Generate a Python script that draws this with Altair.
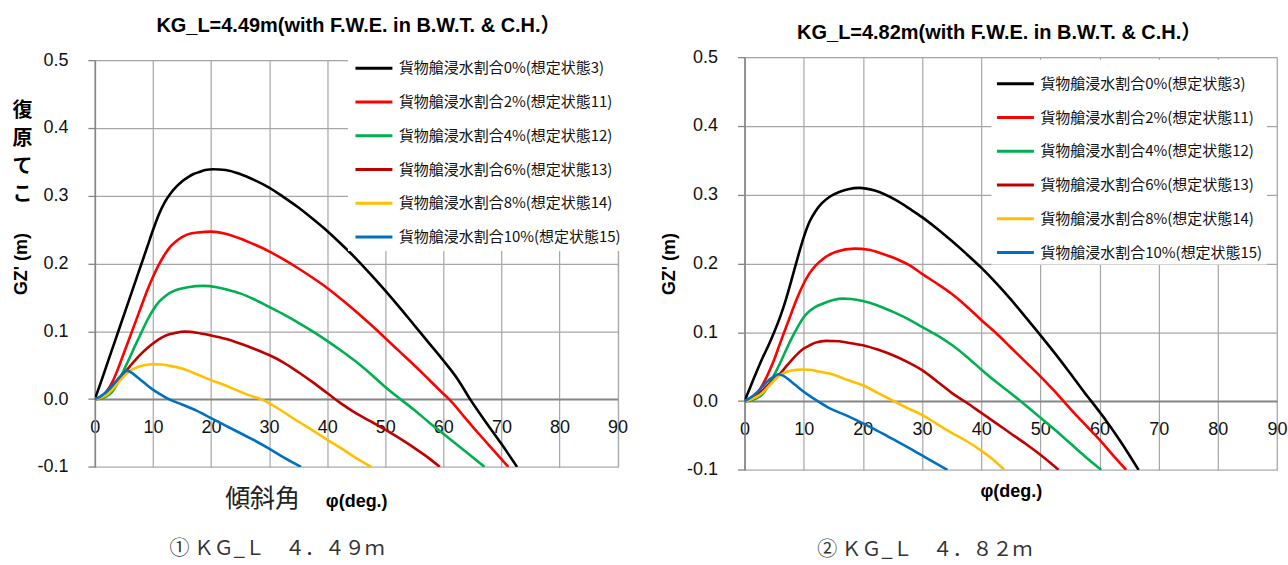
import altair as alt
import pandas as pd

LAT = "Liberation Sans, Noto Sans CJK JP"
JP = "Noto Sans CJK JP"

series = [
    "貨物艙浸水割合0%(想定状態3)",
    "貨物艙浸水割合2%(想定状態11)",
    "貨物艙浸水割合4%(想定状態12)",
    "貨物艙浸水割合6%(想定状態13)",
    "貨物艙浸水割合8%(想定状態14)",
    "貨物艙浸水割合10%(想定状態15)",
]
colors = ["#000000", "#FF0000", "#00B050", "#C00000", "#FFC000", "#0070C0"]

title_left = "KG_L=4.49m(with F.W.E. in B.W.T. & C.H.）"
title_right = "KG_L=4.82m(with F.W.E. in B.W.T. & C.H.）"
caption_left = "① ＫＧ_Ｌ　４．４９ｍ"
caption_right = "② ＫＧ_Ｌ　４．８２ｍ"
x_title = "φ(deg.)"
x_title_jp = "傾斜角"
y_title = "GZ' (m)"
y_title_jp = ["復", "原", "て", "こ"]
x_ticks = [0, 10, 20, 30, 40, 50, 60, 70, 80, 90]
y_ticks = [-0.1, 0.0, 0.1, 0.2, 0.3, 0.4, 0.5]

# ---- left chart: KG_L = 4.49 m ----
L0_phi = [0, 1, 2, 3, 4, 5, 6, 7, 8, 9, 10, 11, 12, 13, 14, 15, 16, 17, 18, 19, 20.4, 22.5, 25, 27.5, 30, 32.5, 35, 37.5, 40, 42.5, 45, 47.5, 50, 52.5, 55, 57.5, 60, 62.5, 64.6, 67, 70, 72.7]
L0_gz = [0, 0.024, 0.049, 0.074, 0.099, 0.124, 0.149, 0.174, 0.199, 0.224, 0.249, 0.272, 0.29, 0.303, 0.313, 0.321, 0.327, 0.332, 0.335, 0.338, 0.339, 0.338, 0.332, 0.323, 0.312, 0.298, 0.283, 0.266, 0.248, 0.228, 0.207, 0.184, 0.16, 0.135, 0.109, 0.083, 0.057, 0.029, 0.0, -0.03, -0.066, -0.1]
L2_phi = [0, 1, 2, 3, 4, 5, 6, 7, 8, 9, 10, 11, 12, 13, 14, 15, 16, 18, 20, 22.5, 25, 27.5, 30, 32.5, 35, 37.5, 40, 42.5, 45, 47.5, 50, 52.5, 55, 57.5, 60, 61, 63.5, 66, 68.5, 71.2]
L2_gz = [0, 0.003, 0.011, 0.025, 0.045, 0.068, 0.091, 0.114, 0.137, 0.16, 0.18, 0.198, 0.213, 0.225, 0.233, 0.239, 0.243, 0.246, 0.247, 0.244, 0.237, 0.228, 0.218, 0.206, 0.193, 0.179, 0.164, 0.147, 0.129, 0.11, 0.09, 0.07, 0.05, 0.029, 0.008, 0.0, -0.025, -0.05, -0.074, -0.1]
L4_phi = [0, 1, 2, 3, 4, 5, 6, 7, 8, 9, 10, 11, 12, 13, 14, 16, 18.7, 21, 23, 25, 27.5, 30, 32.5, 35, 37.5, 40, 42.5, 45, 47.5, 50, 52.6, 55, 57.5, 60, 63.5, 67.1]
L4_gz = [0, 0.001, 0.004, 0.011, 0.025, 0.043, 0.061, 0.08, 0.098, 0.116, 0.131, 0.143, 0.151, 0.157, 0.161, 0.165, 0.167, 0.165, 0.161, 0.156, 0.147, 0.136, 0.125, 0.113, 0.1, 0.086, 0.071, 0.055, 0.037, 0.018, 0.0, -0.016, -0.034, -0.051, -0.075, -0.1]
L6_phi = [0, 1, 2, 3, 4, 5, 6, 7, 8, 9, 10, 11, 12, 13, 14, 15.5, 17.5, 20, 22.5, 25, 27.5, 30, 32.5, 35, 37.5, 40, 42.5, 45, 47.5, 50, 52.5, 55, 57.5, 59.4]
L6_gz = [0, 0.002, 0.007, 0.016, 0.027, 0.038, 0.048, 0.058, 0.067, 0.075, 0.082, 0.088, 0.093, 0.096, 0.098, 0.0995, 0.098, 0.094, 0.089, 0.082, 0.074, 0.065, 0.054, 0.04, 0.025, 0.009, -0.007, -0.021, -0.033, -0.045, -0.058, -0.072, -0.087, -0.1]
L8_phi = [0, 1, 2, 3, 4, 5, 5.8, 7, 8.5, 10, 11.5, 13, 15, 17.5, 20, 22.5, 25, 27.5, 28.6, 30, 32.5, 35, 37.5, 40, 42.5, 45, 47.6]
L8_gz = [0, 0.002, 0.006, 0.014, 0.024, 0.034, 0.04, 0.046, 0.05, 0.0515, 0.051, 0.049, 0.045, 0.037, 0.028, 0.02, 0.011, 0.003, 0.0, -0.006, -0.019, -0.033, -0.046, -0.06, -0.073, -0.087, -0.1]
L10_phi = [0, 1, 2, 3, 4, 5, 5.5, 6.5, 7.5, 8.5, 10, 11.5, 12.5, 15, 17.5, 20, 22.5, 25, 27.5, 30, 32.5, 35.5]
L10_gz = [0, 0.004, 0.011, 0.02, 0.03, 0.039, 0.042, 0.038, 0.031, 0.024, 0.014, 0.006, 0.001, -0.008, -0.017, -0.028, -0.039, -0.05, -0.061, -0.073, -0.086, -0.1]

# ---- right chart: KG_L = 4.82 m ----
R0_phi = [0, 1, 2, 3, 4, 5, 6, 7, 8, 9, 10, 11, 12, 13, 14.4, 16, 17.5, 19.4, 22, 25.6, 28, 30, 32.5, 35, 37.5, 40, 42.5, 45, 47.5, 50, 52.5, 55, 57.5, 58.6, 61, 63.5, 66.6]
R0_gz = [0, 0.021, 0.042, 0.062, 0.08, 0.1, 0.122, 0.148, 0.178, 0.209, 0.238, 0.261, 0.276, 0.287, 0.297, 0.304, 0.308, 0.31, 0.306, 0.292, 0.279, 0.2675, 0.251, 0.233, 0.214, 0.194, 0.172, 0.148, 0.122, 0.096, 0.069, 0.041, 0.012, 0.0, -0.027, -0.058, -0.1]
R2_phi = [0, 1, 2, 3, 4, 5, 6, 7, 8, 9, 10, 11, 12, 13.3, 15.5, 18.6, 21, 23, 25.6, 28, 30, 32.5, 35, 37.5, 40, 42.5, 45, 47.5, 50, 52, 53.9, 56, 58, 60, 62, 64.5]
R2_gz = [0, 0.002, 0.009, 0.023, 0.04, 0.06, 0.084, 0.107, 0.13, 0.152, 0.171, 0.186, 0.197, 0.207, 0.217, 0.2216, 0.22, 0.215, 0.207, 0.197, 0.185, 0.171, 0.156, 0.138, 0.118, 0.099, 0.078, 0.057, 0.036, 0.018, 0.0, -0.02, -0.038, -0.056, -0.076, -0.1]
R4_phi = [0, 1, 2, 3, 4, 5, 6, 7, 8, 9, 10, 11, 12, 13.3, 15, 16.6, 18, 20, 22.5, 25, 27.5, 30, 32.5, 35, 37.5, 40, 42.5, 45, 47.5, 50, 52.5, 55, 57.5, 60.3]
R4_gz = [0, 0.001, 0.004, 0.01, 0.022, 0.038, 0.055, 0.074, 0.092, 0.108, 0.122, 0.131, 0.137, 0.142, 0.147, 0.149, 0.1485, 0.1456, 0.139, 0.13, 0.12, 0.108, 0.096, 0.082, 0.065, 0.046, 0.028, 0.0115, -0.006, -0.024, -0.042, -0.061, -0.08, -0.1]
R6_phi = [0, 1, 2, 3, 4, 5, 6, 7, 8, 9, 10, 11, 12, 13.8, 16, 18, 20, 22.5, 25, 27.5, 30, 32.5, 35, 37.5, 40, 42.5, 45, 47.5, 50, 53.1]
R6_gz = [0, 0.002, 0.007, 0.015, 0.024, 0.032, 0.04, 0.05, 0.06, 0.069, 0.0764, 0.081, 0.085, 0.0876, 0.087, 0.084, 0.0813, 0.075, 0.067, 0.057, 0.045, 0.029, 0.012, -0.002, -0.017, -0.032, -0.047, -0.062, -0.078, -0.1]
R8_phi = [0, 1, 2, 3, 4, 5, 6, 7, 8, 9.6, 11, 12.5, 14.4, 17, 20, 22.5, 25, 27.5, 30, 32.5, 35, 37.5, 40, 42, 43.9]
R8_gz = [0, 0.002, 0.006, 0.012, 0.021, 0.03, 0.0377, 0.042, 0.0445, 0.046, 0.0455, 0.043, 0.04, 0.032, 0.023, 0.012, 0.001, -0.01, -0.02, -0.033, -0.046, -0.058, -0.072, -0.085, -0.1]
R10_phi = [0, 1, 2, 3, 4, 5, 5.7, 6.5, 7.5, 8.5, 10, 12, 14.4, 17, 18.9, 22, 25, 28, 31, 34.3]
R10_gz = [0, 0.005, 0.012, 0.021, 0.03, 0.036, 0.039, 0.037, 0.031, 0.024, 0.0135, 0.002, -0.0106, -0.02, -0.0276, -0.041, -0.055, -0.069, -0.084, -0.1]


def frame(pairs):
    rows = []
    for name, (xs, ys) in zip(series, pairs):
        for i, (a, b) in enumerate(zip(xs, ys)):
            rows.append({"series": name, "phi": a, "gz": b, "i": i})
    return pd.DataFrame(rows)


left_df = frame([(L0_phi, L0_gz), (L2_phi, L2_gz), (L4_phi, L4_gz),
                 (L6_phi, L6_gz), (L8_phi, L8_gz), (L10_phi, L10_gz)])
right_df = frame([(R0_phi, R0_gz), (R2_phi, R2_gz), (R4_phi, R4_gz),
                  (R6_phi, R6_gz), (R8_phi, R8_gz), (R10_phi, R10_gz)])

GRID = "#A6A6A6"
AXIS = "#868686"
LABEL_EXPR = "datum.value < 0 ? '-' + format(-datum.value, '.1f') : format(datum.value, '.1f')"


def panel(df, w, h, legend_x, legend_y, legend_pad, title_text, title_x, title_y,
          caption, cap_x, cap_y, xtitle_y, ytitle_x, jp_left):
    zero_off = -(h / 6.0)
    x_enc = alt.X(
        "phi:Q",
        scale=alt.Scale(domain=[0, 90], nice=False, zero=False),
        axis=alt.Axis(
            values=x_ticks, grid=True, gridColor=GRID, gridWidth=1.2,
            domainColor=AXIS, domainWidth=1.6, ticks=False,
            labelFont=LAT, labelFontSize=18, labelColor="#111",
            labelPadding=19, labelFlush=False, labelOverlap=False,
            offset=zero_off, title=x_title, titleFont=LAT, titleFontSize=18,
            titleFontWeight="bold", titleColor="#000", titleY=xtitle_y,
            titleBaseline="middle",
        ),
    )
    y_enc = alt.Y(
        "gz:Q",
        scale=alt.Scale(domain=[-0.1, 0.5], nice=False, zero=False),
        axis=alt.Axis(
            values=y_ticks, labelExpr=LABEL_EXPR, grid=True, gridColor=GRID,
            gridWidth=1.2, domainColor=AXIS, domainWidth=1.6, tickColor=AXIS,
            tickWidth=1.3, tickSize=7, labelFont=LAT, labelFontSize=18,
            labelColor="#111", labelPadding=20, title=y_title, titleFont=LAT,
            titleFontSize=18, titleFontWeight="bold", titleColor="#000",
            titleX=ytitle_x, titleBaseline="middle",
        ),
    )
    lines = alt.Chart(df).mark_line(strokeWidth=2.6, interpolate="monotone", clip=True).encode(
        x=x_enc,
        y=y_enc,
        color=alt.Color(
            "series:N",
            scale=alt.Scale(domain=series, range=colors),
            legend=alt.Legend(
                title=None, orient="none", legendX=legend_x, legendY=legend_y,
                direction="vertical", symbolType="stroke", symbolSize=1369,
                symbolStrokeWidth=3, symbolOffset=0, labelFont=JP,
                labelFontSize=15, labelColor="#111", labelOffset=5,
                labelLimit=400, rowPadding=5.8, fillColor="white",
                padding=legend_pad,
            ),
        ),
        order="i:Q",
    )
    one = pd.DataFrame({"k": [0]})
    title = alt.Chart(one).mark_text(
        text=title_text, font=LAT, fontSize=20, fontWeight="bold", color="#000",
        align="center", baseline="middle",
    ).encode(x=alt.value(title_x), y=alt.value(title_y))
    cap = alt.Chart(one).mark_text(
        text=caption, font=JP, fontSize=20, color="#333", align="center",
        baseline="middle",
    ).encode(x=alt.value(cap_x), y=alt.value(cap_y))
    layers = [lines, title, cap]
    if jp_left:
        stacked = alt.Chart(one).mark_text(
            text=y_title_jp, font=JP, fontSize=20, fontWeight="bold",
            color="#000", align="center", baseline="middle", lineHeight=28,
        ).encode(x=alt.value(-72.5), y=alt.value(51))
        xjp = alt.Chart(one).mark_text(
            text=x_title_jp, font=JP, fontSize=25, color="#222",
            align="center", baseline="middle",
        ).encode(x=alt.value(168), y=alt.value(440))
        layers += [stacked, xjp]
    return alt.layer(*layers).properties(width=w, height=h)


left = panel(left_df, 523.5, 407.4, 253.5, -17.8, 6, title_left, 264, -34,
             caption_left, 182.5, 490, 102.7, -73, True)
right = panel(right_df, 533.3, 413.4, 247.3, 2.7, 4, title_right, 255, -24.5,
              caption_right, 180.5, 493.5, 91, -74.7, False)

chart = alt.hconcat(left, right, spacing=126.7, bounds="flush", center=True).resolve_scale(
    color="independent", x="independent", y="independent"
).resolve_legend(color="independent").properties(
    padding={"left": 12, "top": 14.5, "right": 0, "bottom": 0}
).configure_view(stroke=None).configure(background="white")

chart.save("out.html", embed_options={"renderer": "svg", "actions": False})
